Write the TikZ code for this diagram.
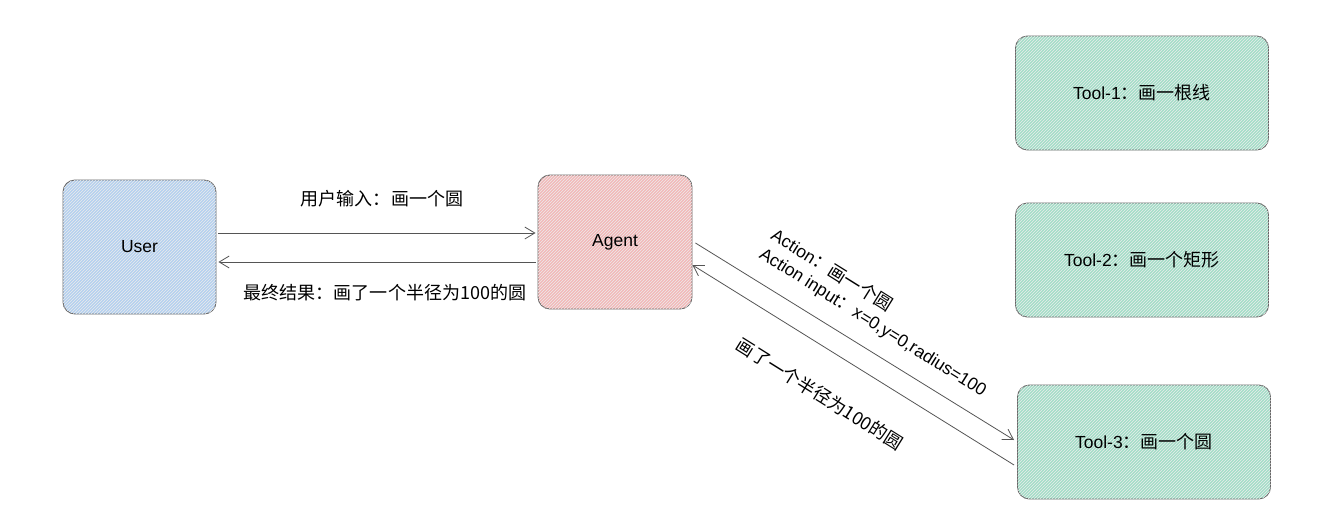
\documentclass[tikz,border=0pt]{standalone}
\usepackage{fontspec}
\setmainfont{Liberation Sans}
\newfontfamily\cjk[Scale=1.03]{Noto Sans CJK SC}
\usetikzlibrary{arrows.meta,patterns,calc}
\definecolor{userfill}{HTML}{B4D0F0}
\definecolor{agentfill}{HTML}{F3B8B8}
\definecolor{toolfill}{HTML}{A2DEC8}
\definecolor{boxline}{HTML}{666666}
\definecolor{arrline}{HTML}{555555}
\tikzstyle{box}=[draw=boxline,rounded corners=12pt,line width=0.9pt,font=\fontsize{17.5}{21}\selectfont,postaction={pattern=north east lines,pattern color=white!85!gray}]
\tikzstyle{userbox}=[box,fill=userfill,minimum width=153pt,minimum height=134pt]
\tikzstyle{agentbox}=[box,fill=agentfill,minimum width=154pt,minimum height=134pt]
\tikzstyle{toolbox}=[box,fill=toolfill,minimum width=253pt,minimum height=114pt]
\tikzstyle{lbl}=[font=\fontsize{17.5}{22}\selectfont,inner sep=1pt]
\tikzstyle{arr}=[draw=arrline,line width=0.8pt,-{Straight Barb[length=10pt,width=12pt]}]

\begin{document}
\begin{tikzpicture}[x=1pt,y=-1pt]
    \useasboundingbox (0,0) rectangle (1320,522);
    \node[userbox]  (user)  at (139.5,247) {User};
    \node[agentbox] (agent) at (615,242)   {Agent};
    \node[toolbox]  (tool1) at (1142,93)   {Tool-1{\cjk ：画一根线}};
    \node[toolbox]  (tool2) at (1142,260)  {Tool-2{\cjk ：画一个矩形}};
    \node[toolbox]  (tool3) at (1144,442)  {Tool-3{\cjk ：画一个圆}};

    % user <-> agent
    \draw[arr] ($(user.east |- agent.west)+(2,-9)$) -- ($(agent.west)+(-2,-9)$);
    \draw[arr] ($(agent.west)+(-2,20)$) -- ($(user.east |- agent.west)+(2,20)$);
    \node[lbl] (ask)   at (382,199) {\cjk 用户输入：画一个圆};
    \node[lbl] (final) at (385,293) {\cjk 最终结果：画了一个半径为100的圆};

    % agent <-> tool-3
    \draw[arr] ($(agent.east)+(3,1)$) -- ($(tool3.west)+(-3,-2)$);
    \draw[arr] ($(tool3.west)+(-3,23)$) -- ($(agent.east)+(0,23)$);
    \node[lbl,rotate=-32,align=left] (act) at (879,313)
        {Action{\cjk ：画一个圆}\\Action input{\cjk ：}x=0,y=0,radius=100};
    \node[lbl,rotate=-32] (result) at (820,394) {\cjk 画了一个半径为100的圆};
\end{tikzpicture}
\end{document}
